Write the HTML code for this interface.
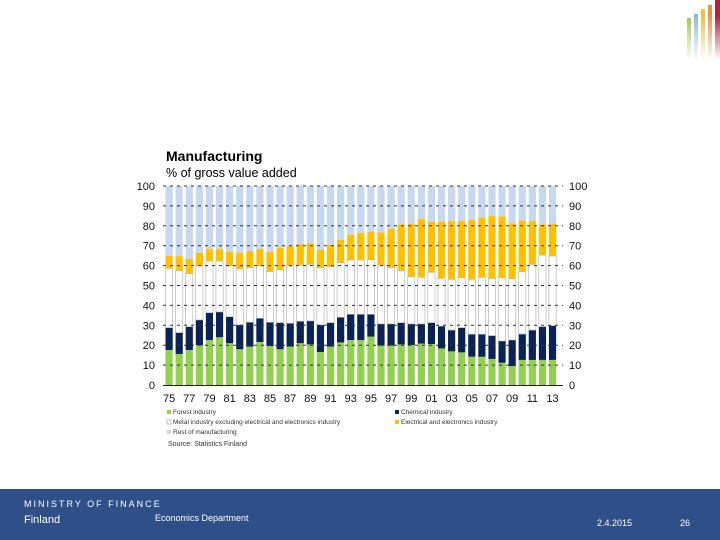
<!DOCTYPE html>
<html><head><meta charset="utf-8"><style>
body{margin:0;width:720px;height:540px;overflow:hidden;background:#fff;font-family:"Liberation Sans",sans-serif;position:relative}
</style></head><body>
<svg width="720" height="540" style="position:absolute;left:0;top:0">
<defs>
<linearGradient id="fg" x1="0" y1="0" x2="0" y2="1"><stop offset="0" stop-color="#fff" stop-opacity="0"/><stop offset="1" stop-color="#fff" stop-opacity="1"/></linearGradient>
</defs>
<g>
<rect x="687" y="18" width="4" height="40" fill="#9cc842"/>
<rect x="694" y="14" width="4" height="44" fill="#8fb6e0"/>
<rect x="701" y="9" width="4" height="49" fill="#f2c040"/>
<rect x="708" y="5" width="4" height="53" fill="#e8914a"/>
<rect x="715" y="0" width="5" height="58" fill="#b3203a"/>
<rect x="685" y="15" width="35" height="45" fill="url(#fg)"/>
</g>
<g id="chart"></g>
<rect x="0" y="489" width="720" height="51" fill="#2f4f88"/>
<text x="166" y="161" font-size="14" font-weight="bold" fill="#000">Manufacturing</text>
<text x="166" y="177" font-size="12.5" fill="#000">% of gross value added</text>
<g font-size="6.5" fill="#333">
<rect x="167" y="410" width="4" height="4" fill="#92d050"/><text x="173" y="414">Forest industry</text>
<rect x="395" y="410" width="4" height="4" fill="#0b2256"/><text x="401" y="414">Chemical industry</text>
<rect x="167" y="420" width="4" height="4" fill="#fff" stroke="#999" stroke-width="0.6"/><text x="173" y="424">Metal industry excluding electrical and electronics industry</text>
<rect x="395" y="420" width="4" height="4" fill="#ffc000"/><text x="401" y="424">Electrical and electronics industry</text>
<rect x="167" y="430" width="4" height="4" fill="#c6d9f0"/><text x="173" y="434">Rest of manufacturing</text>
<text x="168" y="446" font-size="7">Source: Statistics Finland</text>
</g>
<text x="24" y="507" font-size="9" fill="#fff" letter-spacing="2">MINISTRY OF FINANCE</text>
<text x="24" y="523" font-size="11" fill="#fff">Finland</text>
<text x="155" y="521" font-size="9" fill="#fff">Economics Department</text>
<text x="597" y="526" font-size="9" fill="#fff">2.4.2015</text>
<text x="680" y="526" font-size="9" fill="#fff">26</text>
</svg>
<script>
const years=["75","76","77","78","79","80","81","82","83","84","85","86","87","88","89","90","91","92","93","94","95","96","97","98","99","00","01","02","03","04","05","06","07","08","09","10","11","12","13"];
const forestTop=[17.6,15.6,17.6,20,22.6,24,21,18,19.3,21.6,19.6,18,19.3,21,20.4,16.6,19.3,21.4,22.6,22.6,24.3,19.8,19.8,20.4,20.1,20.8,20.6,18.4,16.9,16.4,14.2,14.2,13.1,11.2,9.5,12.6,12.6,12.6,12.6];
const chemicalTop=[28.8,26.3,29.3,32.7,36.3,36.7,34.3,30.2,31.5,33.5,31.5,31.3,31,32,32.2,30.2,31.3,34,35.5,35.5,35.5,30.7,30.7,31.3,30.7,30.7,31.3,29.6,27.6,28.8,25.5,25.5,24.8,22.1,22.6,25.6,27.6,29.3,29.8];
const metalTop=[58.6,57.5,56,59.8,62.3,62.3,59.8,58.3,59,59.8,57,58,59.8,60.3,60.6,59,59.5,61.5,62.8,62.8,63,60.3,59,57.5,54.4,54.1,56.6,53.6,53.1,53.9,53.1,54.1,53.6,53.9,53.4,57,60.6,65.3,64.8];
const electricalTop=[64.8,64.8,63.3,66.5,68.3,68.3,67,66.5,67.3,68.3,67,69,69.8,70.8,71.2,68,70.4,72.9,75.4,76.5,77,76.7,78.4,80.7,80.9,83.4,82.1,82.1,82.4,82.4,82.9,84.1,84.9,84.6,81.2,82.6,82.4,80.7,80.9];
const yTicks=[0,10,20,30,40,50,60,70,80,90,100];
const NS="http://www.w3.org/2000/svg";
const g=document.getElementById("chart");
const y0=385,y100=186,x0=165.5,pitch=10.09,bw=7.2;
const Y=v=>y0-(y0-y100)*v/100;
const X=i=>x0+pitch*i;
function mk(tag,a){const e=document.createElementNS(NS,tag);for(const k in a)e.setAttribute(k,a[k]);g.appendChild(e);return e;}
const segs=[["forest","#92d050"],["chemical","#0b2256"],["metal","#ffffff"],["electrical","#ffc000"],["rest","#c6d9f0"]];
years.forEach((yr,i)=>{
  const tops=[forestTop[i],chemicalTop[i],metalTop[i],electricalTop[i],100];
  let prev=0;
  tops.forEach((t,k)=>{
    const r=mk("rect",{x:X(i),y:Y(t),width:bw,height:Y(prev)-Y(t),fill:segs[k][1]});
    if(k===2){r.setAttribute("stroke","#aaa");r.setAttribute("stroke-width","0.6");}
    
    
    prev=t;
  });
  if(i%2===0){
    const t=mk("text",{x:X(i)+bw/2,y:402,"font-size":"11","text-anchor":"middle",fill:"#111"});
    t.textContent=yr;
    
    
  }
});
yTicks.forEach(v=>{
  if(v>0){
    const l=mk("line",{x1:163,x2:563,y1:Y(v),y2:Y(v),stroke:"#333","stroke-width":"1","stroke-dasharray":"3,4"});
    
    
  }
  const a=mk("text",{x:155,y:Y(v)+4,"font-size":"11","text-anchor":"end",fill:"#111"});
  a.textContent=v;
  
  
  const b=mk("text",{x:569,y:Y(v)+4,"font-size":"11",fill:"#111"});
  b.textContent=v;
  
  
});
const ax=mk("line",{x1:163,x2:563,y1:y0+0.5,y2:y0+0.5,stroke:"#222","stroke-width":"1"});


</script>
</body></html>
